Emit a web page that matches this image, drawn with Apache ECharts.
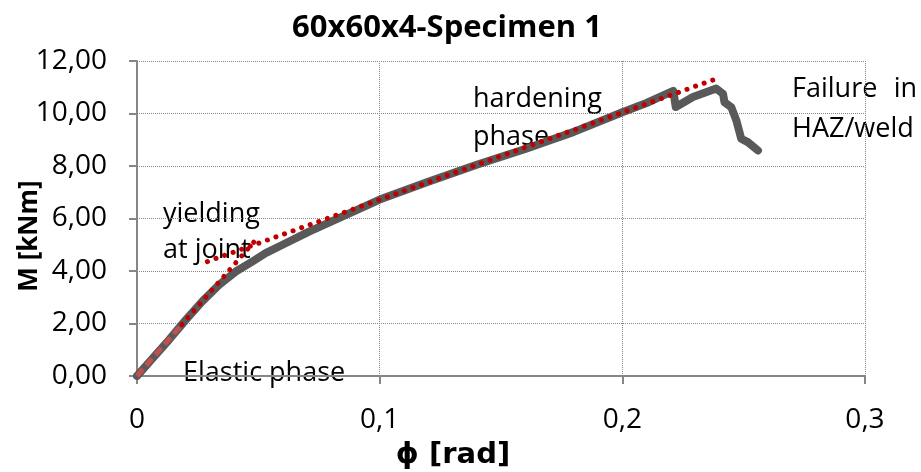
<!DOCTYPE html>
<html>
<head>
<meta charset="utf-8">
<title>60x60x4-Specimen 1</title>
<script src="https://cdn.jsdelivr.net/npm/echarts@6/dist/echarts.min.js"></script>
<style>
    html,body{margin:0;padding:0;background:#fff;}
    #chart{width:921px;height:472px;}
</style>
</head>
<body>
<div id="chart"></div>
<script>
// 试验曲线 (phi, M)
let test_phi = [0, 0.0066, 0.0132, 0.0201, 0.0269, 0.0338, 0.0407, 0.0475, 0.053, 0.06, 0.0709, 0.08, 0.09, 0.1, 0.12, 0.14, 0.16, 0.18, 0.2, 0.21, 0.2155, 0.221, 0.222, 0.2291, 0.2387, 0.2415, 0.2421, 0.2449, 0.247, 0.249, 0.2517, 0.2559]
let test_m = [0, 0.69, 1.38, 2.14, 2.84, 3.47, 3.98, 4.36, 4.68, 5.0, 5.5, 5.88, 6.3, 6.72, 7.4, 8.05, 8.65, 9.3, 10.05, 10.4, 10.63, 10.86, 10.25, 10.63, 10.95, 10.75, 10.43, 10.24, 9.73, 9.04, 8.91, 8.59]

// 弹性段 / 硬化段 拟合线
let elastic_dash_phi = [0, 0.0185]
let elastic_dash_m = [0, 1.96]
let elastic_phi = [0.0185, 0.0503]
let elastic_m = [1.96, 5.33]
let hardening_phi = [0.029, 0.2374]
let hardening_m = [4.36, 11.28]

// 刻度
let x_ticks = [0, 0.1, 0.2, 0.3]
let y_ticks = [0, 2, 4, 6, 8, 10, 12]

let font = 'Open Sans'

function pairs(xs, ys){
    let arr = []
    for(let i = 0; i < xs.length; i++){
        arr.push([xs[i], ys[i]])
    }
    return arr
}

function label(text, x, y, size, opts){
    opts = opts || {}
    return {
        type: 'text',
        x: x,
        y: y,
        rotation: opts.rotation || 0,
        style: {
            text: text,
            fill: '#000',
            font: (opts.bold ? 'bold ' : '') + size + 'px "' + (opts.family || font) + '"',
            align: opts.align || 'left',
            verticalAlign: 'middle'
        }
    }
}

window.onload = function(){
    var mychart = echarts.init(document.getElementById('chart'))
    let dot = {type: [0.1, 9], cap: 'round', width: 5, color: '#C00000'}
    mychart.setOption({
        animation: false,
        grid: {
            left: 137,
            right: 56,
            top: 61,
            bottom: 96
        },
        xAxis: {
            type: 'value',
            min: x_ticks[0],
            max: x_ticks[x_ticks.length - 1],
            interval: 0.1,
            axisLine: {lineStyle: {color: '#868686', width: 2}},
            axisTick: {show: true, length: 8, lineStyle: {color: '#868686', width: 2}},
            axisLabel: {
                margin: 30,
                color: '#000',
                fontFamily: font,
                fontSize: 28,
                formatter: v => String(+v.toFixed(1)).replace('.', ',')
            },
            splitLine: {show: true, lineStyle: {color: '#868686', type: 'dotted', width: 1}}
        },
        yAxis: {
            type: 'value',
            min: y_ticks[0],
            max: y_ticks[y_ticks.length - 1],
            interval: 2,
            axisLine: {show: true, lineStyle: {color: '#868686', width: 2}},
            axisTick: {show: true, length: 8, lineStyle: {color: '#868686', width: 2}},
            axisLabel: {
                margin: 30,
                color: '#000',
                fontFamily: font,
                fontSize: 28,
                formatter: v => v.toFixed(2).replace('.', ',')
            },
            splitLine: {show: true, lineStyle: {color: '#868686', type: 'dotted', width: 1}}
        },
        series: [
            {
                name: 'test',
                type: 'line',
                showSymbol: false,
                lineStyle: {color: '#595959', width: 8, join: 'round', cap: 'round'},
                data: pairs(test_phi, test_m)
            },
            {
                name: 'elastic dash',
                type: 'line',
                showSymbol: false,
                lineStyle: {color: '#C0504D', width: 5, type: [9, 5]},
                data: pairs(elastic_dash_phi, elastic_dash_m)
            },
            {
                name: 'elastic',
                type: 'line',
                showSymbol: false,
                lineStyle: dot,
                data: pairs(elastic_phi, elastic_m)
            },
            {
                name: 'hardening',
                type: 'line',
                showSymbol: false,
                lineStyle: dot,
                data: pairs(hardening_phi, hardening_m)
            }
        ],
        graphic: [
            label('60x60x4-Specimen 1', 447, 28, 31, {bold: true, align: 'center'}),
            label('ϕ [rad]', 453, 455, 29, {bold: true, align: 'center', family: 'DejaVu Sans'}),
            label('M [kNm]', 30, 236, 26, {bold: true, align: 'center', rotation: Math.PI / 2}),
            label('hardening', 473, 99, 27),
            label('phase', 473, 137, 27),
            label('Failure', 792, 89, 27),
            label('in', 917, 89, 27, {align: 'right'}),
            label('HAZ/weld', 792, 129, 27),
            label('yielding', 163, 214, 27),
            label('at joint', 163, 250, 27),
            label('Elastic phase', 183, 373, 27)
        ]
    })
}
</script>
</body>
</html>
